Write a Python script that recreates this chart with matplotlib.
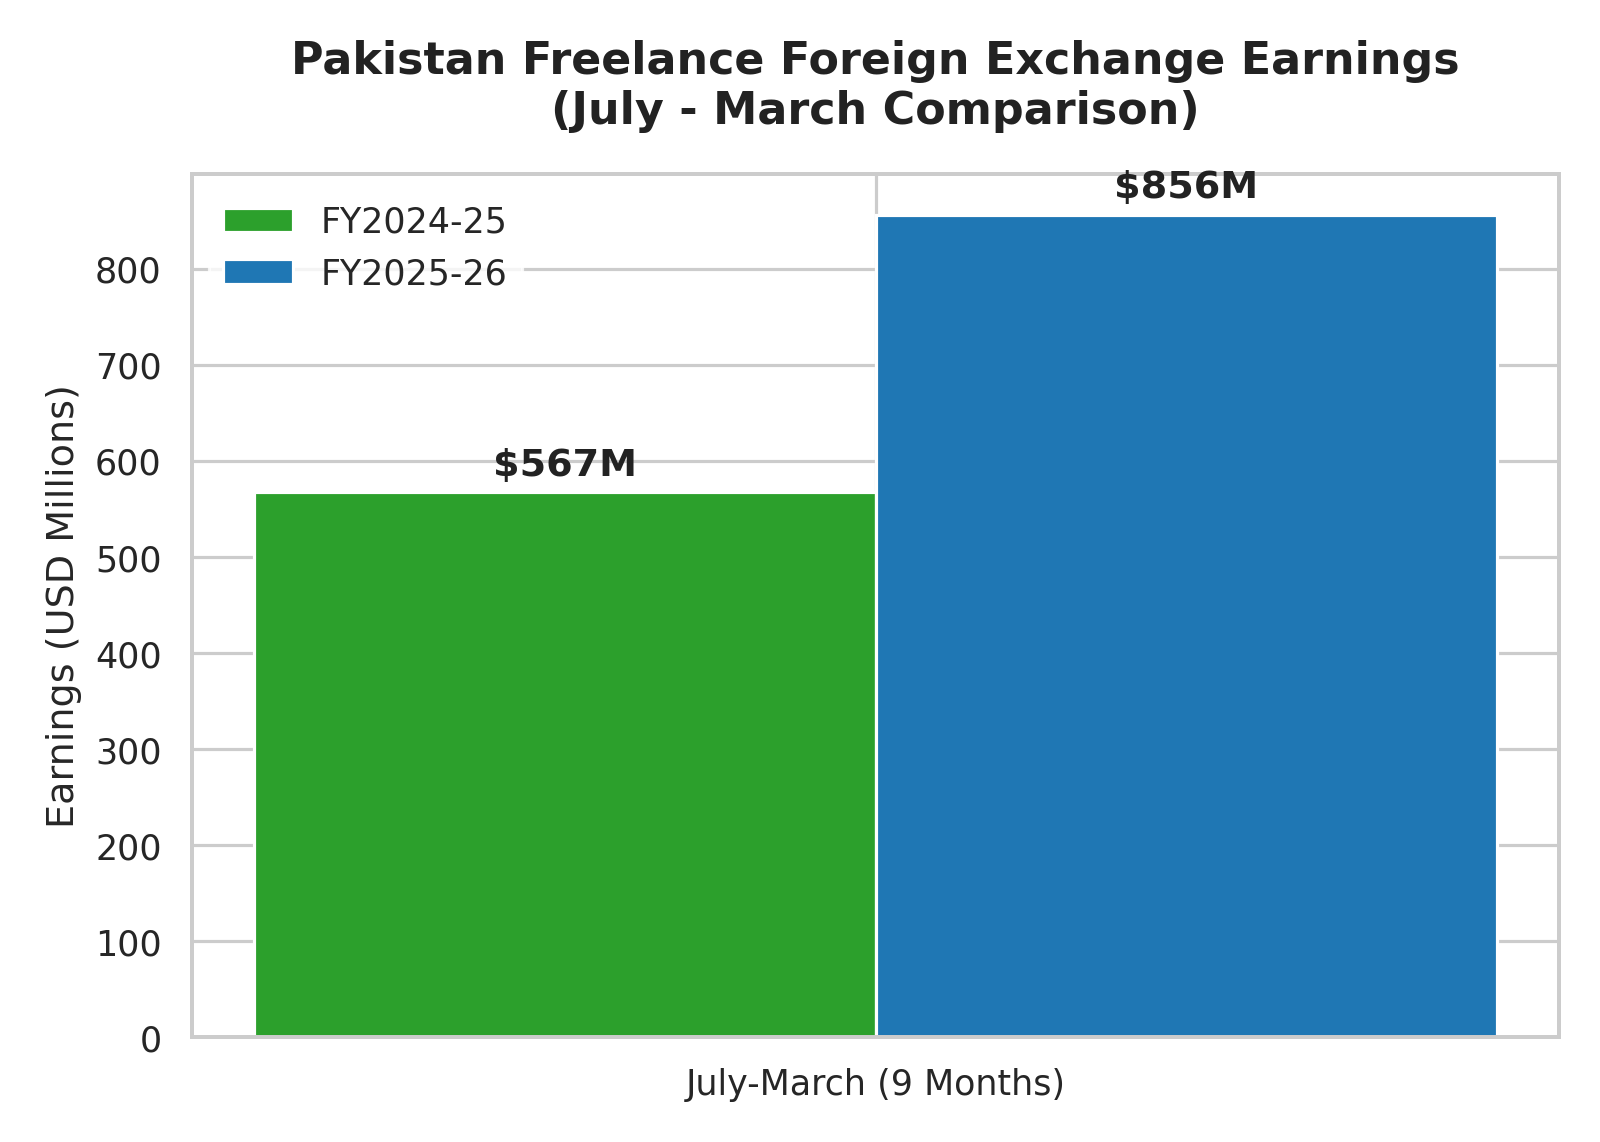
import matplotlib
matplotlib.use("Agg")
import matplotlib.pyplot as plt
import seaborn as sns
import numpy as np

# data
period = ["July-March (9 Months)"]
fy_labels = ["FY2024-25", "FY2025-26"]
earnings = [567, 856]
colors = ["#2ca02c", "#1f77b4"]

sns.set_theme(style="whitegrid")
plt.rcParams['font.family'] = ['DejaVu Sans']

DPI = 1600 / 7
fig, ax = plt.subplots(figsize=(7, 5), dpi=DPI)
fig.subplots_adjust(left=0.1199, right=0.9745, top=0.8473, bottom=0.092)

x = np.arange(len(period))
width = 0.4
for i, (lab, val, col) in enumerate(zip(fy_labels, earnings, colors)):
    offset = (i - 0.5) * width
    bars = ax.bar(x + offset, [val], width, label=lab, color=col, edgecolor="white", linewidth=1)
    for b in bars:
        ax.text(b.get_x() + b.get_width() / 2, b.get_height() + 10,
                "\\$%dM" % val, ha="center", va="bottom",
                fontsize=12, fontweight="bold", color="#222222")

ax.set_xticks(x)
ax.set_xticklabels(period, fontsize=11)
ax.tick_params(axis="y", labelsize=11)
ax.set_ylabel("Earnings (USD Millions)", fontsize=12)
ax.set_title("Pakistan Freelance Foreign Exchange Earnings\n(July - March Comparison)",
             fontsize=14, fontweight="bold", pad=16, color="#222222")
leg = ax.legend(loc="upper left", fontsize=11, frameon=True, facecolor="white", edgecolor="white")

fig.savefig("out.png", dpi=DPI)
